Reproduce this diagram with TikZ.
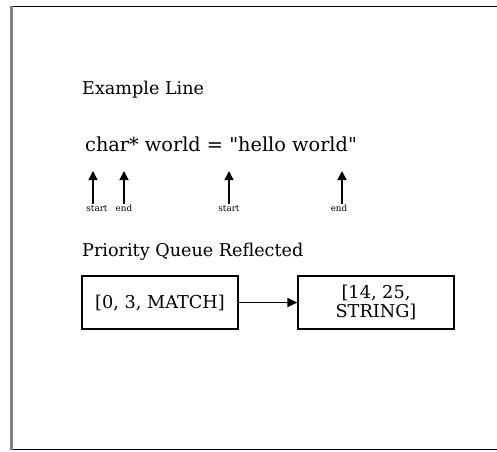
\documentclass[tikz,border=0pt]{standalone}
\usepackage{fontspec}
\setmainfont{DejaVu Serif}
\newfontfamily\codefont{DejaVu Serif}
\usetikzlibrary{arrows.meta}
\begin{document}
\begin{tikzpicture}[x=1pt,y=-1pt,
  lbl/.style={anchor=base west,inner sep=0pt,font=\fontsize{17.6}{20}\selectfont},
  code/.style={anchor=base west,inner sep=0pt,font=\codefont\fontsize{19.3}{22}\selectfont},
  tiny/.style={inner sep=0pt,font=\fontsize{8.8}{10}\selectfont},
  ptr/.style={-{Triangle[length=9pt,width=9pt]},line width=1.3pt},
  qbox/.style={draw,line width=1.2pt,minimum width=156pt,minimum height=53pt,inner sep=0pt,align=center,font=\fontsize{17.7}{19}\selectfont},
  conn/.style={-{Triangle[length=10pt,width=9pt]},line width=1.2pt}]
\useasboundingbox (0,0) rectangle (497,451);
\fill[white] (0,0) rectangle (497,451);
% frame
\coordinate (ftl) at (11,6.5);
\coordinate (ftr) at (497,6.5);
\coordinate (fbl) at (11,449.5);
\coordinate (fbr) at (497,449.5);
\draw[line width=1.2pt] (ftl) -- (ftr);
\draw[line width=1.2pt] (fbl) -- (fbr);
\draw[line width=2.5pt,gray] (11.5,6) -- (11.5,450);
% texts
\node[lbl] (ex) at (82,94) {Example Line};
\node[code] (cl) at (85,151) {char* world = "hello world"};
% pointers
\foreach \n/\x in {a/93,b/124,c/229,d/342}{
  \coordinate (\n0) at (\x,204);
  \coordinate (\n1) at (\x,171);
  \draw[ptr] (\n0) -- (\n1);
}
\node[tiny] (la) at (97,209) {start};
\node[tiny] (lb) at (124,208) {end};
\node[tiny] (lc) at (229,209) {start};
\node[tiny] (ld) at (339,208) {end};
\node[lbl] (pq) at (82,256) {Priority Queue Reflected};
\node[qbox] (q1) at (160,302.5) {[0, 3, MATCH]};
\node[qbox] (q2) at (376,302.5) {[14, 25,\\STRING]};
\draw[conn] (q1) -- (q2);
\end{tikzpicture}
\end{document}
